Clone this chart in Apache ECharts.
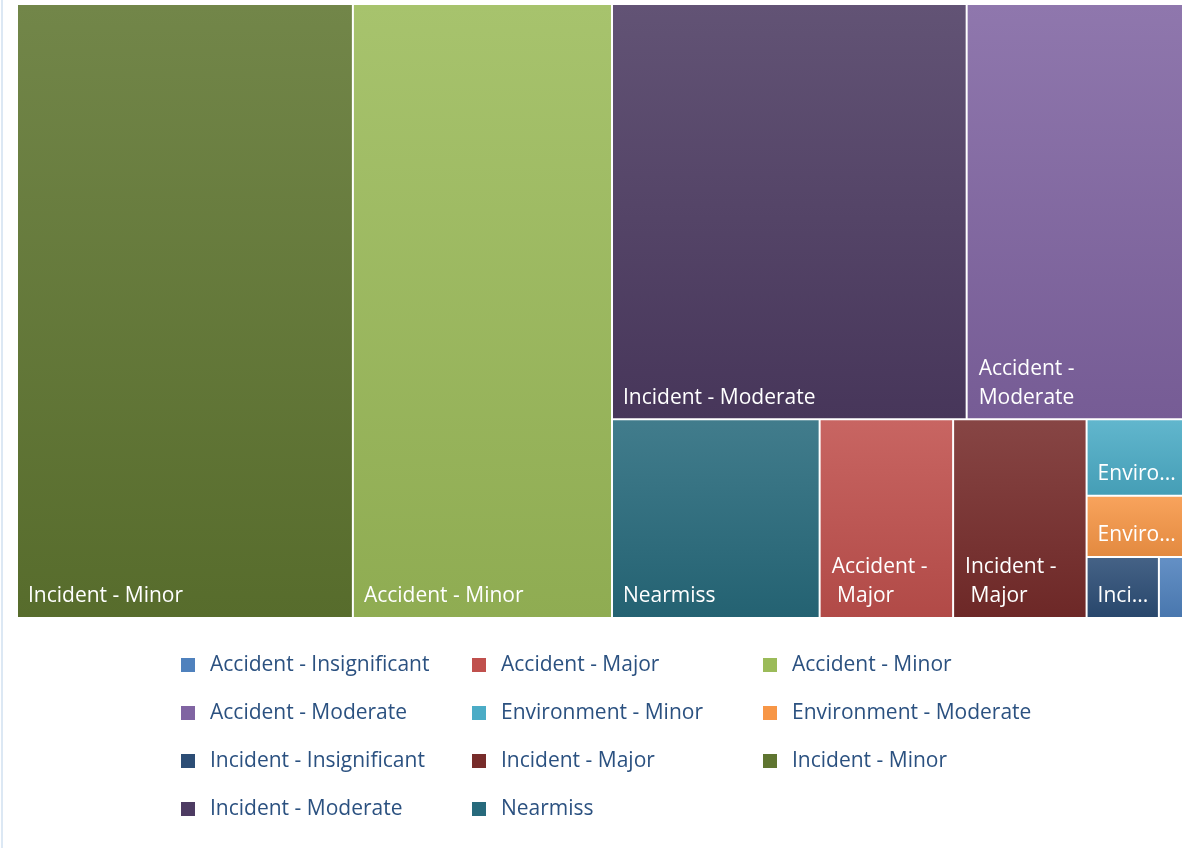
<!DOCTYPE html>
<html>
<head>
<meta charset="utf-8">
<title>Treemap</title>
<script src="https://cdn.jsdelivr.net/npm/echarts@6.0.0/dist/echarts.min.js"></script>
<style>
  html, body { margin: 0; padding: 0; background: #fff; }
  #main { width: 1194px; height: 853px; }
  .edge { position: absolute; left: 1px; top: 0; width: 2px; height: 848px; background: #dce8f4; }
</style>
</head>
<body>
<div class="edge"></div>
<div id="main"></div>
<script>
const categories = [
  'Accident - Insignificant', 'Accident - Major', 'Accident - Minor',
  'Accident - Moderate', 'Environment - Minor', 'Environment - Moderate',
  'Incident - Insignificant', 'Incident - Major', 'Incident - Minor',
  'Incident - Moderate', 'Nearmiss'
];
const counts = [1, 18, 108, 61, 5, 4, 3, 18, 140, 100, 28];
const baseColors = [
  '#4f81bd', '#c0504d', '#9bbb59', '#8064a2', '#4bacc6', '#f79646',
  '#2c4d75', '#772c2a', '#5f7530', '#4d3b62', '#276a7c'
];

// grouping only steers the order in which the treemap splits its area
const splitTree = ['Incident - Minor',
  ['Accident - Minor',
    [['Incident - Moderate', 'Accident - Moderate'],
     ['Nearmiss',
       ['Accident - Major',
         ['Incident - Major',
           ['Environment - Minor',
             ['Environment - Moderate',
               ['Incident - Insignificant', 'Accident - Insignificant']]]]]]]]];
const wrapLabels = ['Accident - Moderate', 'Accident - Major', 'Incident - Major'];

function shade(hex, t) {
  let r = parseInt(hex.substr(1, 2), 16), g = parseInt(hex.substr(3, 2), 16), b = parseInt(hex.substr(5, 2), 16);
  if (t > 0) { r += (255 - r) * t; g += (255 - g) * t; b += (255 - b) * t; }
  else { r *= (1 + t); g *= (1 + t); b *= (1 + t); }
  return 'rgb(' + Math.round(r) + ',' + Math.round(g) + ',' + Math.round(b) + ')';
}

function buildNode(item) {
  if (typeof item === 'string') {
    const i = categories.indexOf(item);
    const node = {
      name: item,
      value: counts[i],
      itemStyle: {
        borderWidth: 1,
        borderColor: '#fff',
        color: new echarts.graphic.LinearGradient(0, 0, 0, 1, [
          { offset: 0, color: shade(baseColors[i], 0.12) },
          { offset: 1, color: shade(baseColors[i], -0.08) }
        ])
      }
    };
    if (wrapLabels.indexOf(item) >= 0) {
      node.label = { overflow: 'break', padding: [0, 24, 6, 11] };
    }
    return node;
  }
  return { name: '', children: item.map(buildNode) };
}

const treeData = splitTree.map(buildNode);

const chart = echarts.init(document.getElementById('main'));
chart.setOption({
  animation: false,
  legend: {
    left: 181,
    top: 647,
    width: 880,
    padding: 0,
    itemGap: 12,
    itemWidth: 14,
    itemHeight: 14,
    icon: 'rect',
    selectedMode: false,
    data: categories,
    textStyle: {
      color: '#2b5180',
      fontFamily: 'Open Sans',
      fontSize: 21,
      width: 250,
      lineHeight: 36,
      padding: [0, 0, 0, 10],
      backgroundColor: 'rgba(0,0,0,0)'
    }
  },
  series: [
    {
      // hidden, only feeds the legend
      type: 'pie',
      radius: [0, 0],
      center: [-50, -50],
      silent: true,
      label: { show: false },
      labelLine: { show: false },
      data: categories.map(function (n, i) {
        return { name: n, value: counts[i], itemStyle: { color: baseColors[i] } };
      })
    },
    {
      type: 'treemap',
      left: 17,
      top: 4,
      width: 1166,
      height: 614,
      roam: false,
      nodeClick: false,
      sort: false,
      squareRatio: 1,
      breadcrumb: { show: false },
      itemStyle: { borderWidth: 0, gapWidth: 0 },
      label: {
        show: true,
        position: 'insideBottomLeft',
        distance: 0,
        padding: [0, 2, 6, 10],
        color: '#fff',
        fontFamily: 'Open Sans',
        fontSize: 21,
        lineHeight: 29,
        overflow: 'truncate',
        ellipsis: '...'
      },
      data: treeData
    }
  ]
});
</script>
</body>
</html>
